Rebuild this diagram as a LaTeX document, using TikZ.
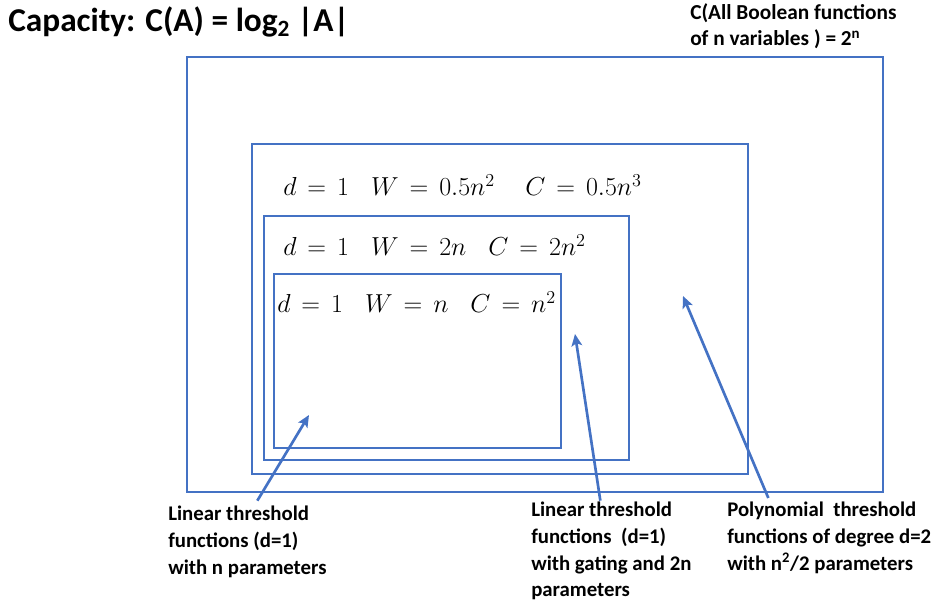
\RequirePackage{fix-cm}
\documentclass[tikz,border=0pt]{standalone}
\usepackage{fontspec}
\setmainfont{Carlito}
\usepackage{amsmath}
\usetikzlibrary{arrows.meta, positioning, calc}
\definecolor{boxblue}{RGB}{68, 114, 196}
\newcommand{\capeq}[1]{$\thickmuskip=7.6mu\relax #1$}

\begin{document}
\begin{tikzpicture}[x=0.75pt, y=-0.75pt,
    box/.style={draw=boxblue, line width=0.8pt},
    arr/.style={draw=boxblue, line width=2pt, -{Stealth[length=9pt, width=8pt, inset=2pt]}},
    lbl/.style={font=\fontsize{15.6}{20}\selectfont\bfseries, align=left, inner sep=0pt, anchor=north west},
    eq/.style={font=\fontsize{19.5}{22}\selectfont, inner sep=0pt, anchor=base west}]
  \useasboundingbox (0,0) rectangle (940,606);

  % nested classes
  \draw[box] (187,57) rectangle (883,492);
  \draw[box] (252,144) rectangle (748,474);
  \draw[box] (264,216) rectangle (629,460);
  \draw[box] (274,274) rectangle (561,448);

  \node[font=\fontsize{25}{28}\selectfont\bfseries, inner sep=0pt, anchor=west] (title) at (8,22)
    {Capacity: C(A) = log\textsubscript{2} |A|};
  \node[lbl, font=\fontsize{16}{20}\selectfont\bfseries] (allbool) at (690,3) {C(All Boolean functions\\of n variables ) = 2\textsuperscript{n}};

  \node[eq] (eqpoly) at (283,196) {\capeq{d=1\;\; W=0.5n^2\quad\, C=0.5n^3}};
  \node[eq] (eqgate) at (283,256) {\capeq{d=1\;\; W=2n\;\; C=2n^2}};
  \node[eq] (eqlin) at (277,313) {\capeq{d=1\;\; W=n\;\; C=n^2}};

  \node[lbl] (lin) at (168,506) {Linear threshold\\functions (d=1)\\with n parameters};
  \node[lbl] (gate) at (531,502) {Linear threshold\\functions \ (d=1)\\with gating and 2n\\parameters};
  \node[lbl] (poly) at (727,502) {Polynomial \ threshold\\functions of degree d=2\\with n\textsuperscript{2}/2 parameters};

  \coordinate (linin) at (309,415);
  \coordinate (gatein) at (575,334);
  \coordinate (polyin) at (683,296);

  \draw[arr] ([xshift=67pt, yshift=4pt]lin.north west) -- (linin);
  \draw[arr] ([xshift=52pt, yshift=1pt]gate.north west) -- (gatein);
  \draw[arr] ([xshift=31pt, yshift=3pt]poly.north west) -- (polyin);
\end{tikzpicture}
\end{document}
